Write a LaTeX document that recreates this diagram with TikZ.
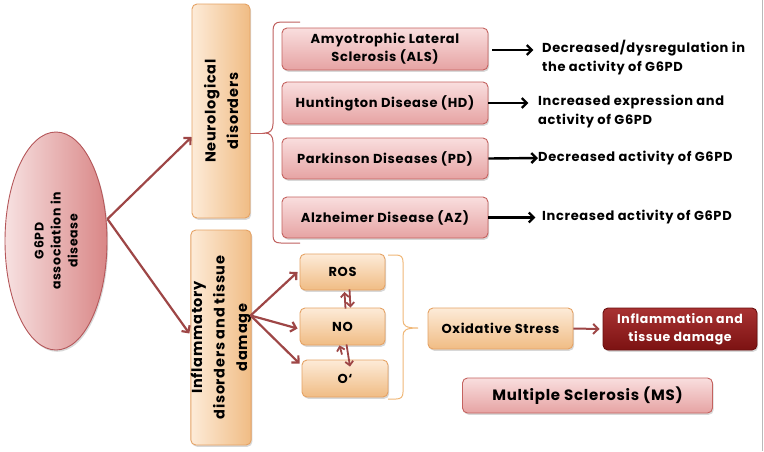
\documentclass[tikz,border=0pt]{standalone}
\usepackage{fontspec}
\setmainfont{Poppins}[LetterSpace=5]
\usetikzlibrary{arrows.meta,shadows,shapes.geometric,calc}
\definecolor{pinktop}{HTML}{F9DEDE}
\definecolor{pinkbot}{HTML}{E6A3A3}
\definecolor{pinkedge}{HTML}{C4625F}
\definecolor{ortop}{HTML}{FDEBD8}
\definecolor{orbot}{HTML}{F0BC84}
\definecolor{oredge}{HTML}{E5A264}
\definecolor{ellL}{HTML}{F7E1E1}
\definecolor{ellR}{HTML}{D98686}
\definecolor{elledge}{HTML}{B5575A}
\definecolor{arrowc}{HTML}{9E4646}
\definecolor{bracer}{HTML}{C0605E}
\definecolor{braceo}{HTML}{F0B878}
\definecolor{infltop}{HTML}{A83232}
\definecolor{inflbot}{HTML}{7C1212}
\definecolor{infledge}{HTML}{6A0E0E}
\begin{document}
\begin{tikzpicture}[x=1pt,y=-1pt,
  shade/.style={drop shadow={shadow xshift=1.2pt,shadow yshift=-1.8pt,opacity=0.3}},
  pinkbox/.style={draw=pinkedge,line width=0.9pt,rounded corners=5pt,top color=pinktop,bottom color=pinkbot,shade,inner sep=0pt,align=center,font=\bfseries\fontsize{13}{18}\selectfont},
  orbox/.style={draw=oredge,line width=0.9pt,rounded corners=5pt,top color=ortop,bottom color=orbot,shade,inner sep=0pt,align=center,font=\bfseries\fontsize{13}{18}\selectfont},
  vbox/.style={draw=oredge,line width=0.9pt,rounded corners=5pt,left color=ortop,right color=orbot,shade,inner sep=0pt,align=center,rotate=90,font=\bfseries\fontsize{14.5}{22.5}\selectfont},
  restext/.style={anchor=west,align=left,inner sep=0pt,font=\bfseries\fontsize{13}{19}\selectfont},
  arr/.style={draw=arrowc,line width=2.2pt,-{Straight Barb[length=5pt,width=10pt]}},
  sarr/.style={draw=arrowc,line width=1.8pt,-{Straight Barb[length=4pt,width=8pt]}},
  barr/.style={draw=black,line width=2.4pt,-{Straight Barb[length=5pt,width=10pt]}}
]
\useasboundingbox (0,0) rectangle (764,451);
\fill[white] (0,0) rectangle (764,451);
\draw[gray!55,line width=1pt] (762.5,0) -- (762.5,451);

% main ellipse
\node[ellipse,rotate=90,draw=elledge,line width=0.9pt,left color=ellL,right color=ellR,shade,
  minimum width=218pt,minimum height=102pt,inner sep=0pt,align=center,
  font=\bfseries\fontsize{12.5}{17}\selectfont] (g6pd) at (56,241) {G6PD\\association in\\disease};

% category boxes
\node[vbox,minimum width=214pt,minimum height=58pt] (neuro) at (221,111) {Neurological\\disorders};
\node[vbox,minimum width=215pt,minimum height=58pt] (inflam) at (221,337.5) {Inflammatory\\disorders and tissue\\damage};

% disease boxes
\node[pinkbox,minimum width=206pt,minimum height=42pt] (als) at (385,49) {Amyotrophic Lateral\\Sclerosis (ALS)};
\node[pinkbox,minimum width=206pt,minimum height=42pt] (hd) at (385,103) {Huntington Disease (HD)};
\node[pinkbox,minimum width=206pt,minimum height=41pt] (pd) at (385,158.5) {Parkinson Diseases (PD)};
\node[pinkbox,minimum width=206pt,minimum height=41pt] (az) at (385,217.5) {Alzheimer Disease (AZ)};

% results
\node[restext] (alsr) at (542,58) {Decreased/dysregulation in\\the activity of G6PD};
\node[restext] (hdr) at (538,112) {Increased expression and\\activity of G6PD};
\node[restext] (pdr) at (538,158) {Decreased activity of G6PD};
\node[restext] (azr) at (542,217) {Increased activity of G6PD};

\draw[barr] ($(als.east)+(4,1)$) -- ($(als.east)+(45,1)$);
\draw[barr] (hd.east) -- ($(hd.east)+(40,0)$);
\draw[barr] (pd.east) -- (pdr.west);
\draw[barr] (az.east) -- ($(az.east)+(47,0)$);

% bottom boxes
\node[orbox,minimum width=85pt,minimum height=36pt] (ros) at (342.5,272) {ROS};
\node[orbox,minimum width=85pt,minimum height=37pt] (no) at (342.5,326.5) {NO};
\node[orbox,minimum width=86pt,minimum height=37pt] (oo) at (345,378.5) {O`};
\node[orbox,minimum width=145pt,minimum height=41pt] (ox) at (500.5,328.5) {Oxidative Stress};
\node[draw=infledge,line width=0.9pt,rounded corners=5pt,top color=infltop,bottom color=inflbot,shade,
  minimum width=154pt,minimum height=42pt,inner sep=0pt,align=center,text=white,
  font=\bfseries\fontsize{12.5}{18}\selectfont] (infl) at (680,329) {Inflammation and\\tissue damage};
\node[pinkbox,minimum width=250pt,minimum height=35pt,font=\bfseries\fontsize{15}{18}\selectfont] (ms) at (587.5,395.5) {Multiple Sclerosis (MS)};

% arrows from main ellipse
\coordinate (gsrc) at ($(g6pd.south)+(0,-22)$);
\draw[arr] (gsrc) -- ($(neuro.north)+(0,26)$);
\draw[arr] (gsrc) -- ($(inflam.north)+(-1,-4)$);

% arrows from inflammatory box
\coordinate (isrc) at ($(inflam.south)+(-1,-22)$);
\draw[arr] (isrc) -- ($(ros.west)+(-2,0)$);
\draw[arr] (isrc) -- ($(no.west)+(-2,2)$);
\draw[arr] (isrc) -- ($(oo.north west)+(-2,4)$);

% double arrows
\draw[sarr] ($(no.north)+(3,1)$) -- ($(ros.south)+(2,1.5)$);
\draw[sarr] ($(ros.south)+(7,-1)$) -- ($(no.north)+(8,0)$);
\draw[sarr] ($(oo.north)+(-3,-5)$) -- ($(no.south)+(-3,0)$);
\draw[sarr] ($(no.south)+(4,-1)$) -- ($(oo.north)+(5,7)$);

\draw[arr,line width=2pt] (ox.east) -- ($(infl.west)+(-3,0)$);

% neurological brace
\coordinate (nb) at (265,133);
\draw[bracer,line width=1pt] ($(neuro.south)+(0,22)$) -- (nb);
\draw[bracer,line width=1pt] (300,22) -- (281,22) .. controls (275,22) and (273,25) .. (273,31)
  -- (273,124) .. controls (273,130) and (270,133) .. (nb)
  .. controls (270,133) and (273,136) .. (273,142)
  -- (273,235) .. controls (273,241) and (275,243) .. (281,243) -- (300,243);

% oxidative brace
\draw[braceo,line width=1pt] (388,255) -- (396,255) .. controls (401,255) and (403,257) .. (403,262)
  -- (403,320) .. controls (403,326) and (406,328) .. (418,328)
  .. controls (406,328) and (403,330) .. (403,336)
  -- (403,392) .. controls (403,397) and (401,399) .. (396,399) -- (388,399);
\end{tikzpicture}
\end{document}
